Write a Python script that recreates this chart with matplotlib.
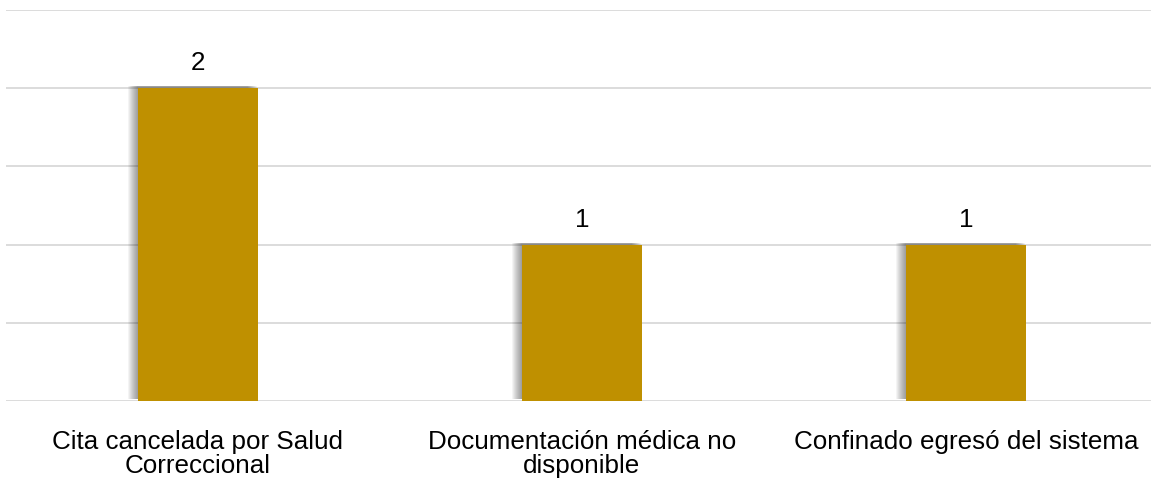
import matplotlib.pyplot as plt
import matplotlib.transforms as mtransforms

plt.rcParams['font.family'] = ['Liberation Sans', 'DejaVu Sans']

categories = ["Cita cancelada por Salud\nCorreccional",
              "Documentación médica no\ndisponible",
              "Confinado egresó del sistema"]
values = [2, 1, 1]

BAR_COLOR = "#BF9000"
W, H = 1151, 481

fig = plt.figure(figsize=(W / 100, H / 100), dpi=100)
ax = fig.add_axes([6 / W, (H - 402) / H, 1152 / W, 391 / H])

x = list(range(len(categories)))
width = 0.31

# soft shadow, shifted a bit to the left, fading outwards
for dx in range(-10, 0):
    off = mtransforms.offset_copy(ax.transData, fig=fig, x=dx, y=2, units="dots")
    ax.bar(x, values, width=width, color="black", alpha=0.045,
           transform=off, zorder=2, linewidth=0)

bars = ax.bar(x, values, width=width, color=BAR_COLOR, zorder=3, linewidth=0)

for xi, v in zip(x, values):
    ax.annotate(str(v), (xi, v), xytext=(0, 10), textcoords="offset points",
                ha="center", va="bottom", fontsize=18.7, color="black")

ax.set_xlim(-0.5, 2.5)
ax.set_ylim(0, 2.5)
ax.set_yticks([0, 0.5, 1, 1.5, 2, 2.5])
ax.yaxis.grid(True, color="#D9D9D9", linewidth=1.3, zorder=0)
ax.set_axisbelow(True)
ax.tick_params(axis="y", left=False, labelleft=False)
ax.tick_params(axis="x", bottom=False, pad=17)
ax.set_xticks(x)
ax.set_xticklabels(categories, fontsize=18.7, linespacing=0.95)
for s in ax.spines.values():
    s.set_visible(False)

fig.savefig("out.png", dpi=100)
